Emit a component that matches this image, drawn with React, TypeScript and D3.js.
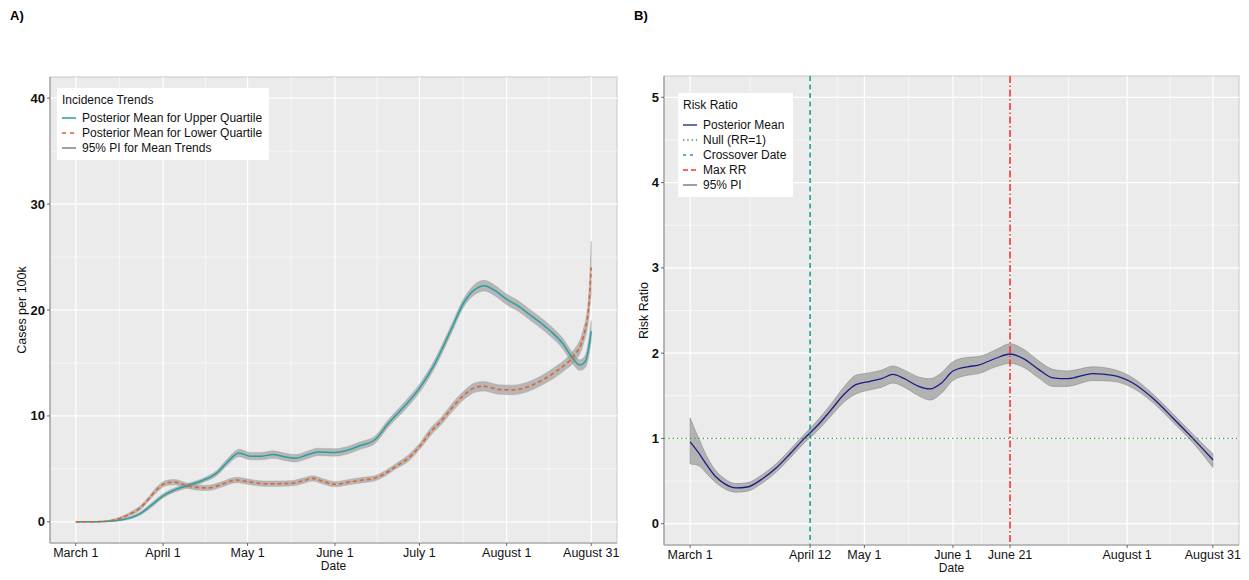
import React from 'react';
import * as d3 from 'd3';

// ---------- Panel A data ----------
const daysUpper = [0, 7, 14, 19, 23, 27, 31, 35, 40, 45, 50, 54, 58, 62, 66, 70, 74, 78, 82, 86, 92, 97, 101, 106, 111, 117, 122, 127, 133, 138, 142, 145, 149, 153, 157, 161, 165, 169, 173, 176, 179, 181, 183];
const meanUpper = [0, 0, 0.1, 0.35, 0.8, 1.6, 2.45, 3.0, 3.45, 3.9, 4.6, 5.7, 6.5, 6.2, 6.2, 6.35, 6.15, 6.0, 6.3, 6.6, 6.55, 6.8, 7.2, 7.7, 9.3, 11.0, 12.6, 14.7, 18.0, 20.8, 22.0, 22.3, 21.8, 21.0, 20.4, 19.6, 18.8, 17.9, 16.8, 15.6, 14.8, 15.2, 18.0];
const loUpper = [0, 0, 0.05, 0.25, 0.65, 1.4, 2.25, 2.8, 3.25, 3.7, 4.35, 5.4, 6.15, 5.85, 5.85, 6.0, 5.8, 5.65, 5.95, 6.25, 6.2, 6.45, 6.85, 7.35, 8.95, 10.6, 12.2, 14.3, 17.6, 20.4, 21.5, 21.8, 21.3, 20.5, 19.9, 19.1, 18.3, 17.4, 16.3, 15.1, 14.3, 14.6, 17.0];
const hiUpper = [0, 0.02, 0.15, 0.45, 0.95, 1.8, 2.65, 3.2, 3.65, 4.1, 4.85, 6.0, 6.85, 6.55, 6.55, 6.7, 6.5, 6.35, 6.65, 6.95, 6.9, 7.15, 7.55, 8.05, 9.65, 11.4, 13.0, 15.1, 18.4, 21.2, 22.5, 22.8, 22.3, 21.5, 20.9, 20.1, 19.3, 18.4, 17.3, 16.1, 15.3, 15.8, 19.0];

const daysLower = [0, 7, 14, 19, 23, 26, 29, 32, 35, 39, 43, 47, 52, 57, 62, 67, 72, 77, 81, 84, 88, 92, 97, 102, 106, 110, 114, 118, 122, 126, 130, 134, 138, 142, 145, 150, 155, 160, 165, 170, 174, 177, 180, 182, 183];
const meanLower = [0, 0, 0.2, 0.7, 1.35, 2.2, 3.1, 3.65, 3.75, 3.45, 3.25, 3.2, 3.55, 3.95, 3.75, 3.6, 3.6, 3.65, 3.9, 4.1, 3.8, 3.55, 3.75, 3.95, 4.1, 4.6, 5.3, 6.0, 7.1, 8.5, 9.6, 10.9, 12.0, 12.7, 12.8, 12.5, 12.45, 12.7, 13.3, 14.1, 14.9, 15.7, 17.3, 20.0, 24.0];
const loLower = [0, 0, 0.1, 0.55, 1.15, 2.0, 2.85, 3.4, 3.5, 3.2, 3.0, 2.95, 3.3, 3.7, 3.5, 3.35, 3.35, 3.4, 3.65, 3.85, 3.55, 3.3, 3.5, 3.7, 3.85, 4.35, 5.05, 5.7, 6.8, 8.15, 9.25, 10.5, 11.6, 12.25, 12.35, 12.05, 12.0, 12.25, 12.85, 13.6, 14.4, 15.1, 16.6, 19.0, 21.5];
const hiLower = [0, 0.02, 0.3, 0.85, 1.55, 2.4, 3.35, 3.9, 4.0, 3.7, 3.5, 3.45, 3.8, 4.2, 4.0, 3.85, 3.85, 3.9, 4.15, 4.35, 4.05, 3.8, 4.0, 4.2, 4.35, 4.85, 5.55, 6.3, 7.4, 8.85, 9.95, 11.3, 12.4, 13.15, 13.25, 12.95, 12.9, 13.15, 13.75, 14.6, 15.4, 16.3, 18.0, 21.0, 26.5];

const xTicksA = [0, 31, 61, 92, 122, 153, 183];
const xLabelsA = ['March 1', 'April 1', 'May 1', 'June 1', 'July 1', 'August 1', 'August 31'];
const yTicksA = [0, 10, 20, 30, 40];

// ---------- Panel B data ----------
const daysRR = [0, 3, 6, 9, 12, 16, 20, 25, 30, 35, 40, 44, 49, 54, 58, 63, 67, 71, 75, 80, 84, 88, 92, 97, 101, 107, 112, 117, 122, 127, 132, 141, 148, 155, 162, 169, 176, 183];
const meanRR = [0.96, 0.83, 0.68, 0.55, 0.47, 0.42, 0.43, 0.52, 0.65, 0.82, 1.0, 1.13, 1.32, 1.52, 1.63, 1.67, 1.7, 1.75, 1.7, 1.61, 1.58, 1.65, 1.79, 1.84, 1.86, 1.94, 1.99, 1.93, 1.81, 1.71, 1.7, 1.76, 1.74, 1.65, 1.47, 1.24, 1.0, 0.75];
const loRR = [0.7, 0.68, 0.58, 0.48, 0.41, 0.37, 0.38, 0.47, 0.6, 0.77, 0.95, 1.07, 1.25, 1.43, 1.52, 1.57, 1.6, 1.65, 1.6, 1.5, 1.45, 1.53, 1.68, 1.74, 1.76, 1.84, 1.88, 1.83, 1.71, 1.61, 1.61, 1.68, 1.67, 1.59, 1.42, 1.19, 0.95, 0.66];
const hiRR = [1.24, 1.0, 0.78, 0.62, 0.53, 0.47, 0.48, 0.57, 0.7, 0.87, 1.05, 1.19, 1.39, 1.61, 1.74, 1.77, 1.8, 1.85, 1.8, 1.72, 1.7, 1.77, 1.9, 1.95, 1.96, 2.04, 2.11, 2.04, 1.91, 1.81, 1.79, 1.84, 1.81, 1.71, 1.52, 1.29, 1.05, 0.82];

const xTicksB = [0, 42, 61, 92, 112, 153, 183];
const xLabelsB = ['March 1', 'April 12', 'May 1', 'June 1', 'June 21', 'August 1', 'August 31'];
const yTicksB = [0, 1, 2, 3, 4, 5];
const crossoverDay = 42;
const maxRRDay = 112;
const nullRR = 1;

const FONT = '"Liberation Sans", Arial, sans-serif';
const TEAL = '#26a0a0';
const ORANGE = '#e2622c';
const NAVY = '#1c1c8a';
const GREEN = '#3a9a3a';
const RED = '#ff3030';
const PANEL = '#ebebeb';

type Pt = { d: number; m: number; lo: number; hi: number };
const zipPts = (d: number[], m: number[], lo: number[], hi: number[]): Pt[] =>
  d.map((v, i) => ({ d: v, m: m[i], lo: lo[i], hi: hi[i] }));

function midpoints(t: number[]) {
  const out: number[] = [];
  for (let i = 0; i < t.length - 1; i++) out.push((t[i] + t[i + 1]) / 2);
  return out;
}

function Frame({ x, y, xTicks, xLabels, yTicks, yTitle, yTitleOffset, children }: any) {
  const [x0, x1] = x.range();
  const [y0, y1] = y.range();
  const yMinor = midpoints(yTicks);
  const xMinor = midpoints(xTicks);
  return (
    <g>
      <rect x={x0} y={y1} width={x1 - x0} height={y0 - y1} fill={PANEL} stroke="#c8c8c8" strokeWidth={1} />
      {yMinor.map((v) => (
        <line key={'ym' + v} x1={x0} x2={x1} y1={y(v)} y2={y(v)} stroke="#fff" strokeWidth={0.6} />
      ))}
      {xMinor.map((v) => (
        <line key={'xm' + v} x1={x(v)} x2={x(v)} y1={y1} y2={y0} stroke="#fff" strokeWidth={0.6} />
      ))}
      {yTicks.map((v: number) => (
        <line key={'yM' + v} x1={x0} x2={x1} y1={y(v)} y2={y(v)} stroke="#fff" strokeWidth={1.2} />
      ))}
      {xTicks.map((v: number) => (
        <line key={'xM' + v} x1={x(v)} x2={x(v)} y1={y1} y2={y0} stroke="#fff" strokeWidth={1.2} />
      ))}
      {children}
      <line x1={x0} x2={x0} y1={y1} y2={y0} stroke="#9a9a9a" strokeWidth={1.2} />
      <line x1={x0} x2={x1} y1={y0} y2={y0} stroke="#9a9a9a" strokeWidth={1.2} />
      {yTicks.map((v: number) => (
        <g key={'yt' + v}>
          <line x1={x0 - 3} x2={x0} y1={y(v)} y2={y(v)} stroke="#444" strokeWidth={0.8} />
          <text x={x0 - 5} y={y(v)} dy="0.35em" textAnchor="end" fontSize={13} fontWeight="bold" fill="#111" fontFamily={FONT}>
            {v}
          </text>
        </g>
      ))}
      {xTicks.map((v: number, i: number) => (
        <g key={'xt' + v}>
          <line x1={x(v)} x2={x(v)} y1={y0} y2={y0 + 3} stroke="#444" strokeWidth={0.8} />
          <text x={x(v)} y={y0 + 14} textAnchor="middle" fontSize={12.5} fill="#111" fontFamily={FONT}>
            {xLabels[i]}
          </text>
        </g>
      ))}
      <text x={(x0 + x1) / 2} y={y0 + 27} textAnchor="middle" fontSize={12} fill="#111" fontFamily={FONT}>
        Date
      </text>
      <text
        transform={`translate(${x0 - yTitleOffset},${(y0 + y1) / 2}) rotate(-90)`}
        textAnchor="middle"
        fontSize={12.5}
        fill="#111"
        fontFamily={FONT}
      >
        {yTitle}
      </text>
    </g>
  );
}

export default function App() {
  // Panel A
  const xA = d3.scaleLinear().domain([-9.15, 192.15]).range([50, 617]);
  const yA = d3.scaleLinear().domain([-2, 42]).range([543, 77]);
  const up = zipPts(daysUpper, meanUpper, loUpper, hiUpper);
  const lw = zipPts(daysLower, meanLower, loLower, hiLower);
  const areaA = d3.area<Pt>().x((p) => xA(p.d)).y0((p) => yA(p.lo)).y1((p) => yA(p.hi)).curve(d3.curveMonotoneX);
  const lineA = d3.line<Pt>().x((p) => xA(p.d)).y((p) => yA(p.m)).curve(d3.curveMonotoneX);

  // Panel B
  const xB = d3.scaleLinear().domain([-9.15, 192.15]).range([664, 1239]);
  const yB = d3.scaleLinear().domain([-0.25, 5.25]).range([545, 76]);
  const rr = zipPts(daysRR, meanRR, loRR, hiRR);
  const areaB = d3.area<Pt>().x((p) => xB(p.d)).y0((p) => yB(p.lo)).y1((p) => yB(p.hi)).curve(d3.curveMonotoneX);
  const lineB = d3.line<Pt>().x((p) => xB(p.d)).y((p) => yB(p.m)).curve(d3.curveMonotoneX);

  const txt = { fontSize: 12, fill: '#111', fontFamily: FONT } as any;

  return (
    <svg width={1249} height={580} style={{ position: 'absolute', left: 0, top: 0, background: '#fff' }}>
      <text x={10} y={20} fontSize={13} fontWeight="bold" fontFamily={FONT} fill="#000">A)</text>
      <text x={634} y={20} fontSize={13} fontWeight="bold" fontFamily={FONT} fill="#000">B)</text>

      <Frame x={xA} y={yA} xTicks={xTicksA} xLabels={xLabelsA} yTicks={yTicksA} yTitle="Cases per 100k" yTitleOffset={24}>
        <path d={areaA(up) || ''} fill="#9a9a9a" fillOpacity={0.65} stroke="#a0a0a0" strokeWidth={0.4} />
        <path d={areaA(lw) || ''} fill="#9a9a9a" fillOpacity={0.65} stroke="#a0a0a0" strokeWidth={0.4} />
        <path d={lineA(up) || ''} fill="none" stroke={TEAL} strokeWidth={1.5} />
        <path d={lineA(lw) || ''} fill="none" stroke={ORANGE} strokeWidth={1.6} strokeDasharray="4,3" />
      </Frame>

      {/* Legend A */}
      <g>
        <rect x={57} y={88} width={212} height={72} fill="#fff" />
        <text x={62} y={104} {...txt}>Incidence Trends</text>
        <line x1={62} x2={76} y1={118} y2={118} stroke={TEAL} strokeWidth={1.5} />
        <text x={82} y={118} dy="0.35em" {...txt}>Posterior Mean for Upper Quartile</text>
        <line x1={62} x2={76} y1={133} y2={133} stroke={ORANGE} strokeWidth={1.6} strokeDasharray="4,4" />
        <text x={82} y={133} dy="0.35em" {...txt}>Posterior Mean for Lower Quartile</text>
        <line x1={62} x2={76} y1={148} y2={148} stroke="#888" strokeWidth={1.6} />
        <text x={82} y={148} dy="0.35em" {...txt}>95% PI for Mean Trends</text>
      </g>

      <Frame x={xB} y={yB} xTicks={xTicksB} xLabels={xLabelsB} yTicks={yTicksB} yTitle="Risk Ratio" yTitleOffset={16}>
        <path d={areaB(rr) || ''} fill="#9a9a9a" fillOpacity={0.7} stroke="#888" strokeWidth={0.6} />
        <path d={lineB(rr) || ''} fill="none" stroke={NAVY} strokeWidth={1.3} />
        <line x1={xB.range()[0]} x2={xB.range()[1]} y1={yB(nullRR)} y2={yB(nullRR)} stroke={GREEN} strokeWidth={1.3} strokeDasharray="1.3,3" />
        <line x1={xB(crossoverDay)} x2={xB(crossoverDay)} y1={yB.range()[1]} y2={yB.range()[0]} stroke="#1f9e99" strokeWidth={1.6} strokeDasharray="5,3.5" />
        <line x1={xB(maxRRDay)} x2={xB(maxRRDay)} y1={yB.range()[1]} y2={yB.range()[0]} stroke={RED} strokeWidth={1.6} strokeDasharray="7,2.5,1.5,2.5" />
      </Frame>

      {/* Legend B */}
      <g>
        <rect x={678} y={93} width={115} height={104} fill="#fff" />
        <text x={683} y={109} {...txt}>Risk Ratio</text>
        <line x1={683} x2={697} y1={125} y2={125} stroke={NAVY} strokeWidth={1.3} />
        <text x={703} y={125} dy="0.35em" {...txt}>Posterior Mean</text>
        <line x1={683} x2={697} y1={140} y2={140} stroke={GREEN} strokeWidth={1.3} strokeDasharray="1.3,3" />
        <text x={703} y={140} dy="0.35em" {...txt}>Null (RR=1)</text>
        <line x1={683} x2={697} y1={155} y2={155} stroke="#1f9e99" strokeWidth={1.5} strokeDasharray="3,4" />
        <text x={703} y={155} dy="0.35em" {...txt}>Crossover Date</text>
        <line x1={683} x2={697} y1={170} y2={170} stroke={RED} strokeWidth={1.5} strokeDasharray="5,3" />
        <text x={703} y={170} dy="0.35em" {...txt}>Max RR</text>
        <line x1={683} x2={697} y1={185} y2={185} stroke="#888" strokeWidth={1.6} />
        <text x={703} y={185} dy="0.35em" {...txt}>95% PI</text>
      </g>
    </svg>
  );
}
